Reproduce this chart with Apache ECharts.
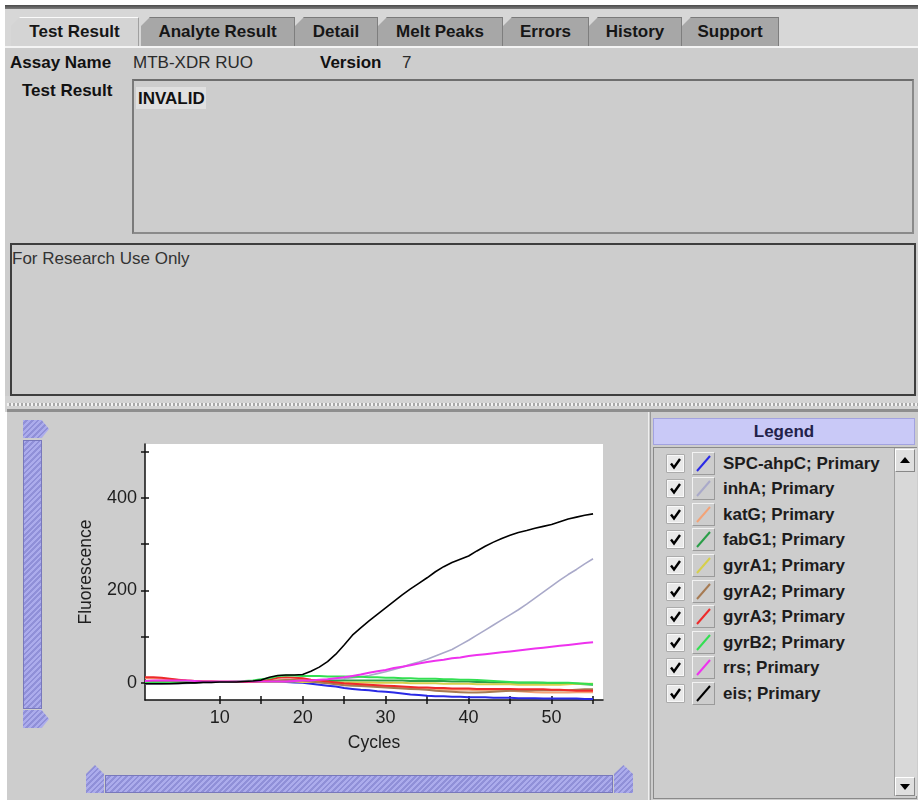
<!DOCTYPE html>
<html><head><meta charset="utf-8">
<script src="https://cdn.jsdelivr.net/npm/echarts@6/dist/echarts.min.js"></script>
<style>
html,body{margin:0;padding:0;}
body{width:918px;height:802px;position:relative;overflow:hidden;background:#fff;font-family:"Liberation Sans",Arial,sans-serif;color:#151515;}
.a{position:absolute;}
.tab{position:absolute;top:17px;height:29px;line-height:28px;text-align:center;font-weight:bold;font-size:17px;background:#a7a7a7;clip-path:polygon(9px 0,100% 0,100% 100%,0 100%,0 9px);box-sizing:border-box;border-top:1px solid #7a7a7a;border-right:1px solid #7e7e7e;color:#161616;}
.tab.sel{background:#d4d4d4;border-top:1px solid #fbfbfb;border-right:1px solid #a0a0a0;}
.lbl{position:absolute;font-size:17px;line-height:20px;white-space:nowrap;}
.b{font-weight:bold;color:#111;}
.hatch{background:repeating-linear-gradient(135deg,#acacec 0 2px,#9090d8 2px 4px);}
.row{position:absolute;left:0;height:25px;width:240px;}
.cb{position:absolute;left:666px;width:19px;height:19px;}
.sw{position:absolute;left:692px;width:23px;height:23px;box-sizing:border-box;border:1px solid #f2f2f2;border-right-color:#9a9a9a;border-bottom-color:#9a9a9a;}
.lt{position:absolute;left:723px;font-size:17px;font-weight:bold;line-height:20px;color:#1c1c1c;white-space:nowrap;}
</style></head><body>
<!-- top frame -->
<div class="a" style="left:5px;top:5px;width:913px;height:4px;background:linear-gradient(#4a4a4a,#7c7c7c);"></div>
<div class="a" style="left:5px;top:9px;width:913px;height:37px;background:#d7d7d7;"></div>
<div class="a" style="left:5px;top:46px;width:913px;height:2px;background:#f4f4f4;"></div>
<div class="a" style="left:5px;top:48px;width:913px;height:348px;background:#cdcdcd;"></div>
<div class="a" style="left:5px;top:396px;width:913px;height:16px;background:#d3d3d3;"></div>
<div class="a" style="left:7px;top:403px;width:911px;height:3px;background:repeating-linear-gradient(90deg,#f2f2f2 0 2px,#a9a9a9 2px 4px);"></div>
<div class="a" style="left:7px;top:409px;width:911px;height:3px;background:#8e8e8e;"></div>

<div class="tab sel" style="left:11px;width:128px;">Test Result</div>
<div class="tab" style="left:141px;width:154px;">Analyte Result</div>
<div class="tab" style="left:295px;width:83px;">Detail</div>
<div class="tab" style="left:378px;width:125px;">Melt Peaks</div>
<div class="tab" style="left:503px;width:86px;">Errors</div>
<div class="tab" style="left:589px;width:93px;">History</div>
<div class="tab" style="left:682px;width:97px;">Support</div>

<div class="lbl b" style="left:10px;top:53px;">Assay Name</div>
<div class="lbl" style="left:133px;top:53px;color:#2a2a2a;">MTB-XDR RUO</div>
<div class="lbl b" style="left:320px;top:53px;">Version</div>
<div class="lbl" style="left:402px;top:53px;color:#2a2a2a;">7</div>
<div class="lbl b" style="left:22px;top:81px;">Test Result</div>
<div class="a" style="left:132px;top:79px;width:782px;height:155px;box-sizing:border-box;border:2px solid #8a8a8a;border-top-color:#6e6e6e;border-left-color:#7a7a7a;"></div>
<div class="a" style="left:136px;top:87px;width:70px;height:22px;background:#e0e0e0;"></div>
<div class="lbl b" style="left:138px;top:89px;">INVALID</div>
<div class="a" style="left:10px;top:243px;width:906px;height:153px;box-sizing:border-box;border:2px solid #3e3e3e;"></div>
<div class="lbl" style="left:12px;top:249px;color:#333;">For Research Use Only</div>

<!-- lower panel -->
<div class="a" style="left:7px;top:412px;width:911px;height:388px;background:#cdcdcd;"></div>
<div class="a" style="left:648px;top:412px;width:1px;height:388px;background:#efefef;"></div>
<div class="a" style="left:650px;top:412px;width:1px;height:388px;background:#9a9a9a;"></div>

<!-- vertical slider -->
<div class="a hatch" style="left:23px;top:420px;width:26px;height:18px;clip-path:polygon(0 0,72% 0,100% 50%,72% 100%,0 100%);"></div>
<div class="a hatch" style="left:23px;top:440px;width:19px;height:269px;box-sizing:border-box;border:1px solid #7878bc;"></div>
<div class="a hatch" style="left:23px;top:710px;width:26px;height:18px;clip-path:polygon(0 0,72% 0,100% 50%,72% 100%,0 100%);"></div>
<!-- horizontal slider -->
<div class="a hatch" style="left:86px;top:765px;width:18px;height:28px;clip-path:polygon(0 32%,50% 0,100% 32%,100% 100%,0 100%);"></div>
<div class="a hatch" style="left:105px;top:775px;width:508px;height:18px;box-sizing:border-box;border:1px solid #7878bc;"></div>
<div class="a hatch" style="left:614px;top:765px;width:19px;height:28px;clip-path:polygon(0 32%,50% 0,100% 32%,100% 100%,0 100%);"></div>

<!-- legend panel -->
<div class="a" style="left:653px;top:418px;width:262px;height:27px;box-sizing:border-box;background:#c9c9f7;border:1px solid #a2a2e0;text-align:center;font-weight:bold;font-size:17px;line-height:25px;color:#22224a;">Legend</div>
<div class="a" style="left:653px;top:447px;width:264px;height:352px;box-sizing:border-box;border:1px solid #8a8a8a;"></div>
<div class="a" style="left:894px;top:448px;width:22px;height:348px;background:#d8d8d8;border-left:1px solid #a0a0a0;"></div>
<div class="a" style="left:895px;top:449px;width:20px;height:23px;box-sizing:border-box;background:#dfdfdf;border:1px solid #fff;border-right-color:#888;border-bottom-color:#888;"></div>
<div class="a" style="left:900px;top:457px;width:0;height:0;border-left:5px solid transparent;border-right:5px solid transparent;border-bottom:6px solid #000;"></div>
<div class="a" style="left:895px;top:777px;width:20px;height:19px;box-sizing:border-box;background:#dfdfdf;border:1px solid #fff;border-right-color:#888;border-bottom-color:#888;"></div>
<div class="a" style="left:900px;top:784px;width:0;height:0;border-left:5px solid transparent;border-right:5px solid transparent;border-top:6px solid #000;"></div>
<div id="legend"></div>

<div id="chart" class="a" style="left:0;top:0;width:918px;height:802px;z-index:5;"></div>

<script>
const cycles = [1,2,3,4,5,6,7,8,9,10,11,12,13,14,15,16,17,18,19,20,21,22,23,24,25,26,27,28,29,30,31,32,33,34,35,36,37,38,39,40,41,42,43,44,45,46,47,48,49,50,51,52,53,54,55];

const spcAhpC = [1,1,1,1,1,1,2,2,2,2, 2,2,2,2,3,3,3,2,1,0, -2,-4,-6,-8,-11, -13,-15,-16,-18,-19, -21,-23,-25,-26,-28, -29,-29,-30,-30,-31, -31,-31,-32,-32,-32, -33,-33,-33,-34,-34, -34,-34,-34,-35,-35];
const inhA = [-3,-3,-3,-2,-2,-1,0,1,1,2, 2,2,3,3,4,4,4,5,5,5, 6,6,7,8,9, 11,13,16,20,24, 29,34,40,45,51, 58,65,72,82,92, 103,114,125,136,147, 158,170,183,196,209, 222,234,245,257,268];
const katG = [10,10,9,8,6,5,4,3,3,3, 3,3,3,3,3,4,5,6,6,6, 4,2,0,-2,-3, -4,-5,-6,-7,-8, -9,-10,-12,-13,-14, -14,-15,-15,-15,-15, -16,-16,-16,-17,-17, -18,-19,-20,-21,-21, -21,-21,-20,-20,-20];
const fabG1 = [0,0,0,0,1,1,1,2,2,2, 2,2,2,3,3,3,3,4,4,4, 4,4,4,4,5, 5,5,5,5,5, 5,5,4,4,4, 4,4,3,3,3, 2,2,1,1,0, 0,0,0,0,-1, -1,-2,-2,-3,-4];
const gyrA1 = [3,3,3,2,2,2,2,2,2,2, 2,2,2,2,2,3,3,3,3,2, 2,2,1,1,1, 1,1,1,0,0, 0,0,-1,-1,-1, -1,-2,-2,-2,-2, -3,-3,-3,-3,-3, -4,-4,-4,-4,-4, -4,-3,-2,-2,-2];
const gyrA2 = [2,2,2,2,2,2,2,2,2,2, 2,2,2,2,3,4,5,6,6,5, 3,1,-1,-3,-5, -6,-7,-8,-9,-10, -11,-12,-13,-14,-15, -17,-18,-19,-20,-21, -21,-20,-19,-18,-17, -17,-17,-16,-16,-16, -16,-16,-15,-14,-14];
const gyrA3 = [12,12,11,9,7,5,4,3,3,2, 2,2,2,3,4,7,11,12,11,10, 7,5,3,1,-1, -2,-3,-4,-5,-6, -7,-8,-9,-10,-10, -11,-11,-12,-12,-12, -13,-13,-13,-13,-13, -14,-14,-14,-14,-15, -15,-16,-17,-17,-17];
const gyrB2 = [1,1,1,1,1,2,2,2,2,2, 2,3,4,5,8,10,15,16,16,15, 15,15,14,14,14, 13,13,12,12,11, 11,10,10,9,9, 9,8,8,7,7, 6,5,4,3,2, 1,1,1,0,0, 0,0,-1,-2,-3];
const rrs = [4,5,5,5,5,5,4,3,3,3, 3,3,3,3,3,3,3,3,4,5, 5,7,8,10,12, 15,18,22,25,28, 32,35,38,42,45, 48,50,53,55,58, 60,62,64,66,68, 70,72,74,76,78, 80,82,84,86,88];
const eis = [-2,-2,-2,-2,-1,0,0,1,1,2, 2,2,3,4,6,12,16,17,17,18, 25,34,46,62,82, 103,119,134,148,162, 176,190,203,215,227, 240,251,260,267,274, 285,295,304,312,319, 325,329,334,338,342, 348,354,358,362,365];

const seriesNames = ['SPC-ahpC; Primary','inhA; Primary','katG; Primary','fabG1; Primary','gyrA1; Primary','gyrA2; Primary','gyrA3; Primary','gyrB2; Primary','rrs; Primary','eis; Primary'];
const seriesValues = [spcAhpC, inhA, katG, fabG1, gyrA1, gyrA2, gyrA3, gyrB2, rrs, eis];
const seriesColors = ['#2a2ae6','#a9a9c9','#f3a377','#2a9e48','#d6cf4a','#a67a52','#ee2a2a','#33df52','#ee32ee','#000000'];

const xTickValues = [10,15,20,25,30,35,40,45,50,55];
const xLabelValues = [10,20,30,40,50];
const yTickValues = [0,100,200,300,400,500];
const yLabelValues = [0,200,400];
const xMin = 1, xMax = 56.2, yMin = -37, yMax = 516;

// legend list (HTML)
const legendEl = document.getElementById('legend');
seriesNames.forEach((name, i) => {
  const cy = 463 + i * 25.6;
  const cb = document.createElement('div');
  cb.className = 'cb';
  cb.style.top = (cy - 9.5) + 'px';
  cb.innerHTML = '<svg width="19" height="19"><rect x="0.5" y="0.5" width="18" height="18" fill="#8a8a8a"/><rect x="1.5" y="1.5" width="16" height="16" fill="#e9e9e9" stroke="#f8f8f8"/><path d="M5 9.5 L8 13.5 L14 5" fill="none" stroke="#000" stroke-width="2.4"/></svg>';
  legendEl.appendChild(cb);
  const sw = document.createElement('div');
  sw.className = 'sw';
  sw.style.top = (cy - 11.5) + 'px';
  sw.innerHTML = '<svg width="21" height="21" style="position:absolute;left:0;top:0"><line x1="4" y1="18" x2="17" y2="3" stroke="' + seriesColors[i] + '" stroke-width="2"/></svg>';
  legendEl.appendChild(sw);
  const t = document.createElement('div');
  t.className = 'lt';
  t.style.top = (cy - 9.5) + 'px';
  t.textContent = name;
  legendEl.appendChild(t);
});

const chart = echarts.init(document.getElementById('chart'), null, {renderer: 'canvas'});
const ff = '"Liberation Sans", Arial, sans-serif';
const labelFont = {fontFamily: ff, fontSize: 18, color: '#1e1e1e'};
const nameFont = {fontFamily: ff, fontSize: 17.5, color: '#1e1e1e'};
const tickStyle = {color: '#111', width: 1.5};

const xCommon = {type: 'value', gridIndex: 0, position: 'bottom', min: xMin, max: xMax, splitLine: {show: false}};
const yCommon = {type: 'value', gridIndex: 0, position: 'left', min: yMin, max: yMax, splitLine: {show: false}};

chart.setOption({
  animation: false,
  backgroundColor: 'transparent',
  grid: {left: 145, top: 444, width: 458, height: 256, show: true, backgroundColor: '#ffffff', borderWidth: 0},
  xAxis: [
    Object.assign({}, xCommon, {
      axisLine: {onZero: false, lineStyle: {color: '#111', width: 1.5}},
      axisTick: {show: true, inside: false, length: 4, customValues: xTickValues, lineStyle: tickStyle},
      axisLabel: Object.assign({margin: 9, customValues: xLabelValues}, labelFont),
      name: 'Cycles', nameLocation: 'middle', nameGap: 34, nameTextStyle: nameFont
    }),
    Object.assign({}, xCommon, {
      axisLine: {show: false, onZero: false},
      axisTick: {show: true, inside: true, length: 4, customValues: xTickValues, lineStyle: tickStyle},
      axisLabel: {show: false}
    })
  ],
  yAxis: [
    Object.assign({}, yCommon, {
      axisLine: {show: true, onZero: false, lineStyle: {color: '#111', width: 1.5}},
      axisTick: {show: true, inside: false, length: 4, customValues: yTickValues, lineStyle: tickStyle},
      axisLabel: Object.assign({margin: 8, customValues: yLabelValues}, labelFont),
      name: 'Fluorescence', nameLocation: 'middle', nameGap: 50, nameTextStyle: nameFont
    }),
    Object.assign({}, yCommon, {
      axisLine: {show: false, onZero: false},
      axisTick: {show: true, inside: true, length: 4, customValues: yTickValues, lineStyle: tickStyle},
      axisLabel: {show: false}
    })
  ],
  series: seriesNames.map((name, i) => ({
    name: name,
    type: 'line',
    xAxisIndex: 0,
    yAxisIndex: 0,
    showSymbol: false,
    symbol: 'none',
    silent: true,
    lineStyle: {color: seriesColors[i], width: i === 9 || i === 1 ? 1.6 : 2},
    data: cycles.map((c, k) => [c, seriesValues[i][k]])
  }))
});
</script>
</body></html>
